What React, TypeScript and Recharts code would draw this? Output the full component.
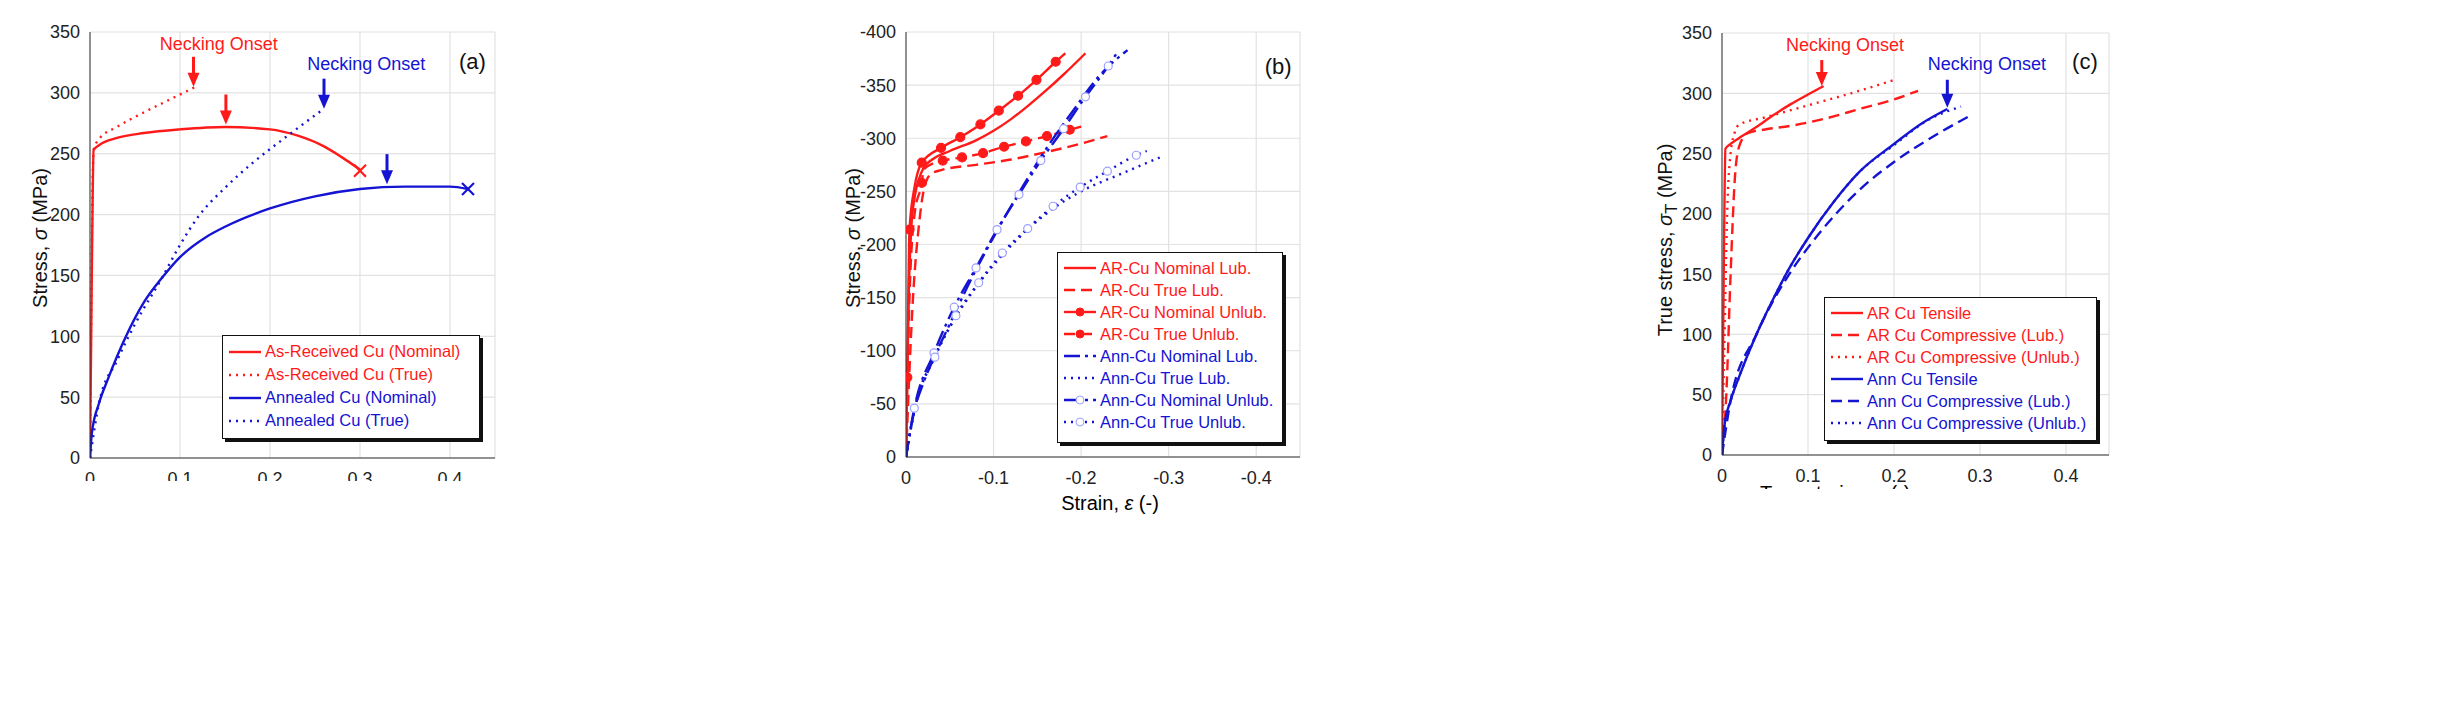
import React from "react"
import { LineChart, Line, XAxis, YAxis, CartesianGrid, ReferenceDot } from "recharts"

type P = { x: number; y: number; m?: boolean }
const pts = (a: number[][], marks: number[] = []): P[] =>
  a.map(([x, y], i) => ({ x, y, m: marks.includes(i) }))

// ---- panel (a): tensile, nominal vs true
const arNominalA = pts([[0, 0], [0.002, 150], [0.004, 253], [0.01, 257], [0.03, 263], [0.06, 267], [0.1, 270], [0.15, 272], [0.2, 270], [0.23, 265], [0.26, 256], [0.28, 247], [0.3, 237]])
const arTrueA = pts([[0, 0], [0.004, 253], [0.01, 262], [0.03, 272], [0.06, 284], [0.09, 295], [0.12, 306]])
const annNominalA = pts([[0, 0], [0.002, 20], [0.01, 45], [0.02, 65], [0.04, 100], [0.06, 128], [0.08, 148], [0.1, 165], [0.13, 182], [0.15, 190], [0.2, 205], [0.25, 215], [0.3, 221], [0.35, 223], [0.4, 223], [0.42, 221]])
const annTrueA = pts([[0, 0], [0.01, 45], [0.03, 80], [0.05, 110], [0.08, 148], [0.1, 175], [0.12, 198], [0.15, 222], [0.18, 242], [0.22, 265], [0.26, 287]])

// ---- panel (b): compression (negative values)
const neg = (a: number[][]) => a.map(([x, y]) => [-x, -y])
const arNomLubB = pts(neg([[0, 0], [0.003, 150], [0.006, 215], [0.01, 245], [0.015, 262], [0.02, 272], [0.03, 280], [0.05, 288], [0.08, 298], [0.1, 307], [0.12, 318], [0.14, 331], [0.16, 345], [0.18, 360], [0.205, 380]]))
const arTrueLubB = pts(neg([[0, 0], [0.008, 150], [0.015, 220], [0.02, 250], [0.028, 266], [0.04, 270], [0.08, 275], [0.12, 280], [0.16, 287], [0.2, 295], [0.23, 302]]))
const arNomUnlubB = pts(neg([[0, 0], [0.0015, 75], [0.004, 214], [0.01, 255], [0.018, 277], [0.04, 291], [0.062, 301], [0.085, 313], [0.106, 326], [0.128, 340], [0.149, 355], [0.171, 372], [0.182, 380]]), [1, 2, 4, 5, 6, 7, 8, 9, 10, 11])
const arTrueUnlubB = pts(neg([[0, 0], [0.004, 150], [0.01, 230], [0.018, 258], [0.02, 270], [0.03, 276], [0.042, 279], [0.064, 282], [0.088, 286], [0.112, 292], [0.137, 297], [0.161, 302], [0.187, 308], [0.2, 311]]), [3, 6, 7, 8, 9, 10, 11, 12])
const annNomLubB = pts(neg([[0, 0], [0.005, 25], [0.01, 45], [0.02, 70], [0.03, 90], [0.05, 125], [0.07, 160], [0.1, 207], [0.13, 250], [0.16, 290], [0.19, 325], [0.22, 358], [0.253, 383]]))
const annTrueLubB = pts(neg([[0, 0], [0.01, 45], [0.03, 90], [0.05, 122], [0.08, 160], [0.11, 190], [0.14, 215], [0.17, 235], [0.2, 250], [0.25, 268], [0.293, 283]]))
const annNomUnlubB = pts(neg([[0, 0], [0.0095, 46], [0.032, 98], [0.055, 141], [0.08, 178], [0.104, 214], [0.129, 247], [0.154, 279], [0.18, 309], [0.205, 339], [0.231, 368], [0.243, 383]]), [1, 2, 3, 4, 5, 6, 7, 8, 9, 10])
const annTrueUnlubB = pts(neg([[0, 0], [0.01, 46], [0.033, 94], [0.057, 133], [0.083, 164], [0.11, 192], [0.139, 215], [0.168, 236], [0.199, 254], [0.23, 269], [0.263, 284], [0.275, 288]]), [2, 3, 4, 5, 6, 7, 8, 9, 10])

// ---- panel (c): true stress, tensile vs compressive
const arTensileC = pts([[0, 0], [0.002, 150], [0.004, 254], [0.01, 258], [0.02, 263], [0.04, 272], [0.06, 282], [0.08, 291], [0.1, 299], [0.118, 306]])
const arCompLubC = pts([[0, 0], [0.005, 50], [0.01, 150], [0.015, 230], [0.02, 256], [0.03, 267], [0.05, 270], [0.08, 273], [0.12, 279], [0.16, 287], [0.2, 295], [0.228, 302]])
const arCompUnlubC = pts([[0, 0], [0.003, 100], [0.006, 200], [0.01, 250], [0.015, 268], [0.02, 274], [0.05, 280], [0.1, 290], [0.15, 300], [0.2, 311]])
const annTensileC = pts([[0, 0], [0.003, 25], [0.01, 45], [0.02, 65], [0.04, 100], [0.06, 130], [0.08, 157], [0.1, 180], [0.13, 210], [0.16, 235], [0.2, 258], [0.23, 274], [0.262, 287]])
const annCompLubC = pts([[0, 0], [0.01, 45], [0.04, 100], [0.08, 152], [0.1, 172], [0.13, 198], [0.16, 220], [0.2, 243], [0.25, 266], [0.29, 282]])
const annCompUnlubC = pts([[0, 0], [0.003, 25], [0.01, 45], [0.02, 65], [0.04, 100], [0.06, 130], [0.08, 157], [0.1, 180], [0.13, 210], [0.16, 235], [0.2, 257], [0.24, 278], [0.278, 289]])

const xTicksPos = [0, 0.1, 0.2, 0.3, 0.4]
const xTicksNeg = [-0.4, -0.3, -0.2, -0.1, 0]
const yTicksPos = [0, 50, 100, 150, 200, 250, 300, 350]
const yTicksNeg = [-400, -350, -300, -250, -200, -150, -100, -50, 0]

const RED = "#ff1a1a"
const BLUE = "#1414d2"
const FONT = "Liberation Sans, Arial, sans-serif"
const SOLID = undefined
const DOT = "2 5"
const DASH = "11 6"
const DASHDOT = "16 5 3 5"

const Arrow = (color: string, len: number) => (p: any) => (
  <g>
    <line x1={p.cx} y1={p.cy - len} x2={p.cx} y2={p.cy - 10} stroke={color} strokeWidth={3} />
    <polygon points={`${p.cx - 6},${p.cy - 14} ${p.cx + 6},${p.cy - 14} ${p.cx},${p.cy}`} fill={color} />
  </g>
)
const Cross = (color: string) => (p: any) => (
  <g stroke={color} strokeWidth={2.2}>
    <line x1={p.cx - 6} y1={p.cy - 6} x2={p.cx + 6} y2={p.cy + 6} />
    <line x1={p.cx - 6} y1={p.cy + 6} x2={p.cx + 6} y2={p.cy - 6} />
  </g>
)
const Label = (text: string, color: string, size = 18) => (p: any) => (
  <text x={p.cx} y={p.cy} textAnchor="middle" dominantBaseline="middle" fill={color} fontSize={size} fontFamily={FONT}>{text}</text>
)
const markDot = (color: string, open: boolean) => (p: any) =>
  p.payload && p.payload.m ? (
    <circle key={p.index} cx={p.cx} cy={p.cy} r={open ? 4 : 4.5} fill={open ? "#fff" : color} stroke={open ? "#9aa0ff" : color} strokeWidth={1.2} />
  ) : (
    <g key={p.index} />
  )

const tickStyle = { fontSize: 18, fill: "#222", fontFamily: FONT }

function series(data: P[], color: string, dash?: string, marker?: "fill" | "open") {
  return (
    <Line
      data={data}
      dataKey="y"
      type="monotone"
      stroke={color}
      strokeWidth={2.4}
      strokeDasharray={dash}
      dot={marker ? markDot(color, marker === "open") : false}
      isAnimationActive={false}
    />
  )
}

function Frame(props: { xTicks: number[]; yTicks: number[]; xDomain: number[]; yDomain: number[]; reversed?: boolean }) {
  return [
    <CartesianGrid key="g" stroke="#e2e2e2" strokeWidth={1.2} />,
    <XAxis key="x" dataKey="x" type="number" domain={props.xDomain} ticks={props.xTicks} reversed={props.reversed} allowDataOverflow
      tick={tickStyle} tickLine={false} axisLine={{ stroke: "#333" }} tickMargin={8} height={30} />,
    <XAxis key="xt" xAxisId="top" orientation="top" dataKey="x" type="number" domain={props.xDomain} tick={false} tickLine={false} axisLine={{ stroke: "#333" }} height={0} />,
    <YAxis key="y" type="number" domain={props.yDomain} ticks={props.yTicks} reversed={props.reversed}
      tick={tickStyle} tickLine={false} axisLine={{ stroke: "#333" }} tickMargin={4} width={50} />,
    <YAxis key="yr" yAxisId="right" orientation="right" type="number" domain={props.yDomain} tick={false} tickLine={false} axisLine={{ stroke: "#333" }} width={0} />,
  ]
}

type LegItem = { text: string; color: string; dash?: string; marker?: "fill" | "open" }
function LegendBox({ left, top, width, height, items, gap }: { left: number; top: number; width: number; height: number; items: LegItem[]; gap: number }) {
  return (
    <div style={{ position: "absolute", left, top, width, height, border: "1.5px solid #111", background: "#fff", boxShadow: "3px 3px 0 #111", boxSizing: "border-box", padding: "4px 5px", fontFamily: FONT, fontSize: 16.5, whiteSpace: "nowrap", overflow: "visible" }}>
      {items.map((it, i) => (
        <div key={i} style={{ display: "flex", alignItems: "center", height: gap, color: it.color }}>
          <svg width={34} height={12} style={{ marginRight: 3, flex: "none" }}>
            <line x1={1} y1={6} x2={33} y2={6} stroke={it.color} strokeWidth={2.4} strokeDasharray={it.dash} />
            {it.marker && <circle cx={17} cy={6} r={4} fill={it.marker === "open" ? "#fff" : it.color} stroke={it.marker === "open" ? "#9aa0ff" : it.color} />}
          </svg>
          <span>{it.text}</span>
        </div>
      ))}
    </div>
  )
}

const vLabel = (text: React.ReactNode, cx: number, cy: number) => (
  <div style={{ position: "absolute", left: cx, top: cy, transform: "translate(-50%,-50%) rotate(-90deg)", whiteSpace: "nowrap", fontFamily: FONT, fontSize: 20, color: "#111" }}>{text}</div>
)

export default function App() {
  return (
    <div style={{ position: "absolute", left: 0, top: 0, width: 2446, height: 712, background: "#fff", overflow: "hidden" }}>
      {/* (a) */}
      <div style={{ position: "absolute", left: 0, top: 0 }}>
        <LineChart width={520} height={712} margin={{ top: 32, left: 40, right: 25, bottom: 224 }}>
          {Frame({ xTicks: xTicksPos, yTicks: yTicksPos, xDomain: [0, 0.45], yDomain: [0, 350] })}
          {series(arNominalA, RED, SOLID)}
          {series(arTrueA, RED, DOT)}
          {series(annNominalA, BLUE, SOLID)}
          {series(annTrueA, BLUE, DOT)}
          <ReferenceDot x={0.3} y={236} shape={Cross(RED)} />
          <ReferenceDot x={0.42} y={221} shape={Cross(BLUE)} />
          <ReferenceDot x={0.115} y={305} shape={Arrow(RED, 30)} />
          <ReferenceDot x={0.151} y={274} shape={Arrow(RED, 30)} />
          <ReferenceDot x={0.26} y={287} shape={Arrow(BLUE, 30)} />
          <ReferenceDot x={0.33} y={225} shape={Arrow(BLUE, 30)} />
          <ReferenceDot x={0.143} y={339} shape={Label("Necking Onset", RED)} />
          <ReferenceDot x={0.307} y={323} shape={Label("Necking Onset", BLUE)} />
          <ReferenceDot x={0.425} y={324} shape={Label("(a)", "#111", 22)} />
        </LineChart>
      </div>
      {vLabel(<>Stress, <i>σ</i> (MPa)</>, 40, 238)}
      <LegendBox left={222} top={335} width={258} height={104} gap={23} items={[
        { text: "As-Received Cu (Nominal)", color: RED },
        { text: "As-Received Cu (True)", color: RED, dash: DOT },
        { text: "Annealed Cu (Nominal)", color: BLUE },
        { text: "Annealed Cu (True)", color: BLUE, dash: DOT },
      ]} />
      <div style={{ position: "absolute", left: 0, top: 481, width: 800, height: 231, background: "#fff" }} />

      {/* (b) */}
      <div style={{ position: "absolute", left: 820, top: 0 }}>
        <LineChart width={500} height={712} margin={{ top: 32, left: 36, right: 20, bottom: 225 }}>
          {Frame({ xTicks: xTicksNeg, yTicks: yTicksNeg, xDomain: [-0.45, 0], yDomain: [-400, 0], reversed: true })}
          {series(arNomLubB, RED, SOLID)}
          {series(arTrueLubB, RED, DASH)}
          {series(arNomUnlubB, RED, SOLID, "fill")}
          {series(arTrueUnlubB, RED, DASH, "fill")}
          {series(annNomLubB, BLUE, DASHDOT)}
          {series(annTrueLubB, BLUE, DOT)}
          {series(annNomUnlubB, BLUE, DASHDOT, "open")}
          {series(annTrueUnlubB, BLUE, DOT, "open")}
          <ReferenceDot x={-0.425} y={-366} shape={Label("(b)", "#111", 22)} />
        </LineChart>
      </div>
      {vLabel(<>Stress, <i>σ</i> (MPa)</>, 853, 238)}
      <div style={{ position: "absolute", left: 1110, top: 503, transform: "translate(-50%,-50%)", fontFamily: FONT, fontSize: 20, whiteSpace: "nowrap" }}>Strain, <i>ε</i> (-)</div>
      <LegendBox left={1057} top={252} width={226} height={191} gap={22} items={[
        { text: "AR-Cu Nominal Lub.", color: RED },
        { text: "AR-Cu True Lub.", color: RED, dash: DASH },
        { text: "AR-Cu Nominal Unlub.", color: RED, marker: "fill" },
        { text: "AR-Cu True Unlub.", color: RED, dash: DASH, marker: "fill" },
        { text: "Ann-Cu Nominal Lub.", color: BLUE, dash: DASHDOT },
        { text: "Ann-Cu True Lub.", color: BLUE, dash: DOT },
        { text: "Ann-Cu Nominal Unlub.", color: BLUE, dash: DASHDOT, marker: "open" },
        { text: "Ann-Cu True Unlub.", color: BLUE, dash: DOT, marker: "open" },
      ]} />

      {/* (c) */}
      <div style={{ position: "absolute", left: 1640, top: 0 }}>
        <LineChart width={490} height={712} margin={{ top: 33, left: 32, right: 21, bottom: 227 }}>
          {Frame({ xTicks: xTicksPos, yTicks: yTicksPos, xDomain: [0, 0.45], yDomain: [0, 350] })}
          {series(arTensileC, RED, SOLID)}
          {series(arCompLubC, RED, DASH)}
          {series(arCompUnlubC, RED, DOT)}
          {series(annTensileC, BLUE, SOLID)}
          {series(annCompLubC, BLUE, DASH)}
          {series(annCompUnlubC, BLUE, DOT)}
          <ReferenceDot x={0.116} y={306} shape={Arrow(RED, 26)} />
          <ReferenceDot x={0.262} y={288} shape={Arrow(BLUE, 28)} />
          <ReferenceDot x={0.143} y={339} shape={Label("Necking Onset", RED)} />
          <ReferenceDot x={0.308} y={323} shape={Label("Necking Onset", BLUE)} />
          <ReferenceDot x={0.422} y={325} shape={Label("(c)", "#111", 22)} />
        </LineChart>
      </div>
      {vLabel(<>True stress, <i>σ</i><sub>T</sub> (MPa)</>, 1668, 240)}
      <LegendBox left={1824} top={297} width={273} height={144} gap={22} items={[
        { text: "AR Cu Tensile", color: RED },
        { text: "AR Cu Compressive (Lub.)", color: RED, dash: DASH },
        { text: "AR Cu Compressive (Unlub.)", color: RED, dash: DOT },
        { text: "Ann Cu Tensile", color: BLUE },
        { text: "Ann Cu Compressive (Lub.)", color: BLUE, dash: DASH },
        { text: "Ann Cu Compressive (Unlub.)", color: BLUE, dash: DOT },
      ]} />
      <div style={{ position: "absolute", left: 1760, top: 482, fontFamily: FONT, fontSize: 20, whiteSpace: "nowrap" }}>True strain, <i>ε</i><sub>T</sub> (-)</div>
      <div style={{ position: "absolute", left: 1620, top: 489, width: 826, height: 223, background: "#fff" }} />
    </div>
  )
}
